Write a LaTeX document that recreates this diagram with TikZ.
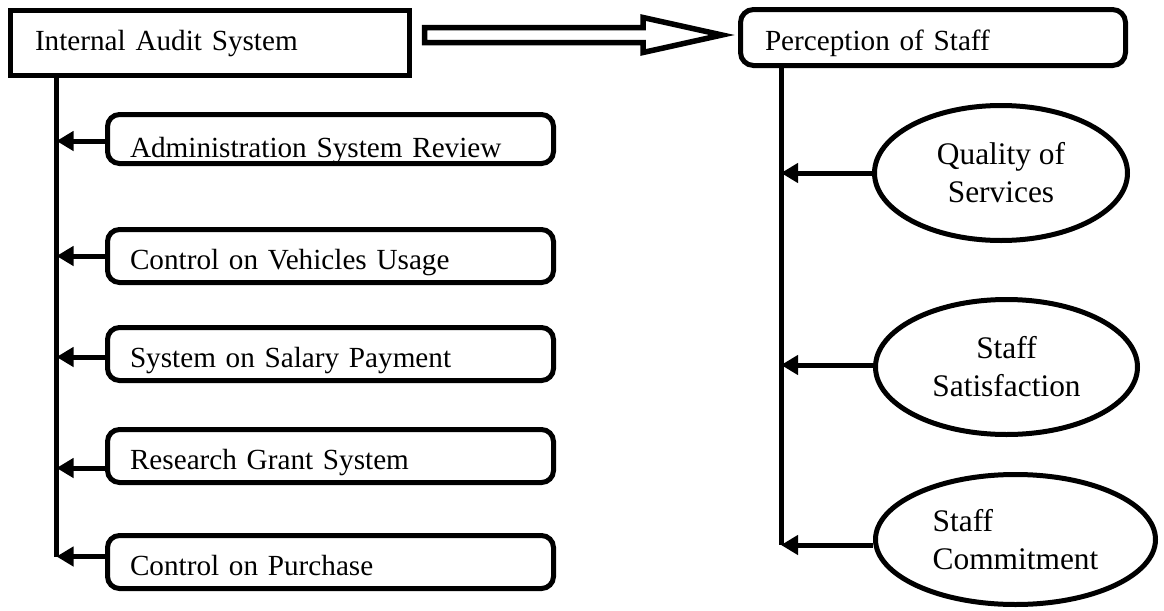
\documentclass[tikz,border=0pt]{standalone}
\usepackage{fontspec}
\setmainfont{Liberation Serif}
\usetikzlibrary{shapes.geometric, calc, arrows.meta}

\begin{document}
\begin{tikzpicture}[x=0.5pt, y=-0.5pt,
  mainbox/.style={draw, line width=2.5pt, anchor=north west, inner ysep=0pt, align=left,
    font=\fontsize{14.6}{17.5}\selectfont},
  itembox/.style={draw, line width=2.5pt, rounded corners=6pt, anchor=north west,
    text width=200.5pt, inner xsep=11.25pt, inner ysep=0pt, text height=19.75pt, text depth=6.75pt,
    align=left, font=\fontsize{14.6}{17.5}\selectfont},
  factor/.style={draw, ellipse, line width=2.5pt, inner sep=0pt,
    font=\fontsize{15.7}{19}\selectfont},
  spine/.style={line width=2.5pt},
  link/.style={line width=2.5pt, -{Triangle[length=8.5pt,width=9.5pt]}},
  hollow/.style={line width=2.75pt, line join=miter}]
\useasboundingbox (0,0) rectangle (1164,611);

% the two main headings
\node[mainbox, text width=175pt, inner xsep=12.25pt, text height=19.75pt, text depth=12.75pt] (ias) at (8,8) {Internal Audit System};
\node[mainbox, rounded corners=6.5pt, text width=168pt, inner xsep=12.25pt, text height=20.25pt, text depth=7.75pt] (pos) at (738,7) {Perception of Staff};

% hollow arrow between them
\coordinate (hs) at ($(ias.east |- pos.west)+(12.5,-2.5)$);
\coordinate (he) at ($(pos.west)+(-16,-2.5)$);
\draw[hollow] ($(hs)+(0,-7.5)$) -- ($(he)+(-79,-7.5)$) -- ($(he)+(-79,-17.5)$) -- (he)
  -- ($(he)+(-79,17.5)$) -- ($(he)+(-79,7.5)$) -- ($(hs)+(0,7.5)$) -- cycle;

% audit items
\node[itembox, text height=21.25pt, text depth=3.25pt] (adm) at (105,112) {Administration System Review};
\node[itembox] (veh) at (105,227) {Control on Vehicles Usage};
\node[itembox] (sal) at (105,325) {System on Salary Payment};
\node[itembox] (rgs) at (105,427) {Research Grant System};
\node[itembox] (cop) at (105,533) {Control on Purchase};

% staff factors
\node[factor, minimum width=126.5pt, minimum height=67.5pt, align=center] (qos) at (1001,173) {Quality of\\Services};
\node[factor, minimum width=131pt, minimum height=67.5pt, align=center] (sts) at (1006.5,367) {Staff\\Satisfaction};
\node[factor, minimum width=140pt, minimum height=65pt, align=left] (stc) at (1015.5,539.5) {Staff\\Commitment};

% spines and links
\coordinate (lx) at (56.5,0);
\coordinate (rx) at (781,0);
\foreach \n/\dy in {adm/-1,veh/0,sal/-1.5,rgs/-6,cop/2.75}{
  \coordinate (\n-a) at ([yshift=\dy pt]\n.west);
  \draw[link] (\n-a) -- (\n-a -| lx);
}
\foreach \n/\dy in {qos/0,sts/1,stc/-2.75}{
  \coordinate (\n-a) at ([yshift=\dy pt]\n.west);
  \draw[link] (\n-a) -- (\n-a -| rx);
}
\draw[spine] (ias.south -| lx) -- (cop-a -| lx);
\draw[spine] (pos.south -| rx) -- (stc-a -| rx);
\end{tikzpicture}
\end{document}
